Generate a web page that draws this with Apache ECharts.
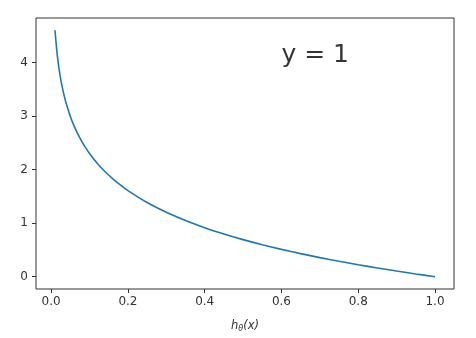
<!DOCTYPE html>
<html><head><meta charset="utf-8">
<script src="https://cdn.jsdelivr.net/npm/echarts@6/dist/echarts.min.js"></script>
<style>html,body{margin:0;padding:0;background:#fff}#c{width:476px;height:338px}</style>
</head><body><div id="c"></div>
<script>
// values
var xValues = [0.01,0.015,0.02,0.025,0.03,0.035,0.04,0.05,0.06,0.07,0.08,0.09,0.10,0.12,0.14,0.16,0.18,0.20,0.25,0.30,0.35,0.40,0.45,0.50,0.55,0.60,0.65,0.70,0.75,0.80,0.85,0.90,0.95,1.00];
var yValues = [4.605,4.200,3.912,3.689,3.507,3.352,3.219,2.996,2.813,2.659,2.526,2.408,2.303,2.120,1.966,1.833,1.715,1.609,1.386,1.204,1.050,0.916,0.799,0.693,0.598,0.511,0.431,0.357,0.288,0.223,0.163,0.105,0.051,0.000];
var xTicks = [0.0,0.2,0.4,0.6,0.8,1.0];
var yTicks = [0,1,2,3,4];
var annotation = {x:0.6, y:4, text:'y = 1'};

var data = xValues.map(function(x,i){return [x,yValues[i]];});
var font = 'DejaVu Sans';
var chart = echarts.init(document.getElementById('c'));
chart.setOption({
  animation:false,
  grid:{left:36,right:22,top:18,bottom:49,show:true,borderColor:'#333',borderWidth:1,backgroundColor:'transparent'},
  xAxis:{type:'value',min:-0.0395,max:1.0495,
    axisLine:{show:false,onZero:false},splitLine:{show:false},
    axisTick:{show:true,customValues:xTicks,length:4,lineStyle:{color:'#333'}},
    axisLabel:{customValues:xTicks,fontFamily:font,fontSize:12,color:'#333',margin:7,formatter:function(v){return v.toFixed(1);}},
    name:'{i|h}{s|θ}{i|(x)}',nameLocation:'middle',nameGap:30,
    nameTextStyle:{rich:{i:{fontFamily:font,fontStyle:'italic',fontSize:11.5,color:'#333'},s:{fontFamily:font,fontStyle:'italic',fontSize:8,color:'#333',verticalAlign:'bottom',padding:[6,0,0,0]}}}
  },
  yAxis:{type:'value',min:-0.23,max:4.835,
    axisLine:{show:false,onZero:false},splitLine:{show:false},
    axisTick:{show:true,customValues:yTicks,length:4,lineStyle:{color:'#333'}},
    axisLabel:{customValues:yTicks,fontFamily:font,fontSize:12,color:'#333',margin:8}
  },
  series:[
    {type:'line',data:data,smooth:0.3,showSymbol:false,lineStyle:{color:'#1f77b4',width:1.6},z:3},
    {type:'scatter',data:[[annotation.x,annotation.y]],symbolSize:0,silent:true,
      label:{show:true,position:'inside',formatter:annotation.text,fontFamily:font,fontSize:25,color:'#000',align:'left',verticalAlign:'bottom',offset:[0,5]}}
  ]
});
</script></body></html>
